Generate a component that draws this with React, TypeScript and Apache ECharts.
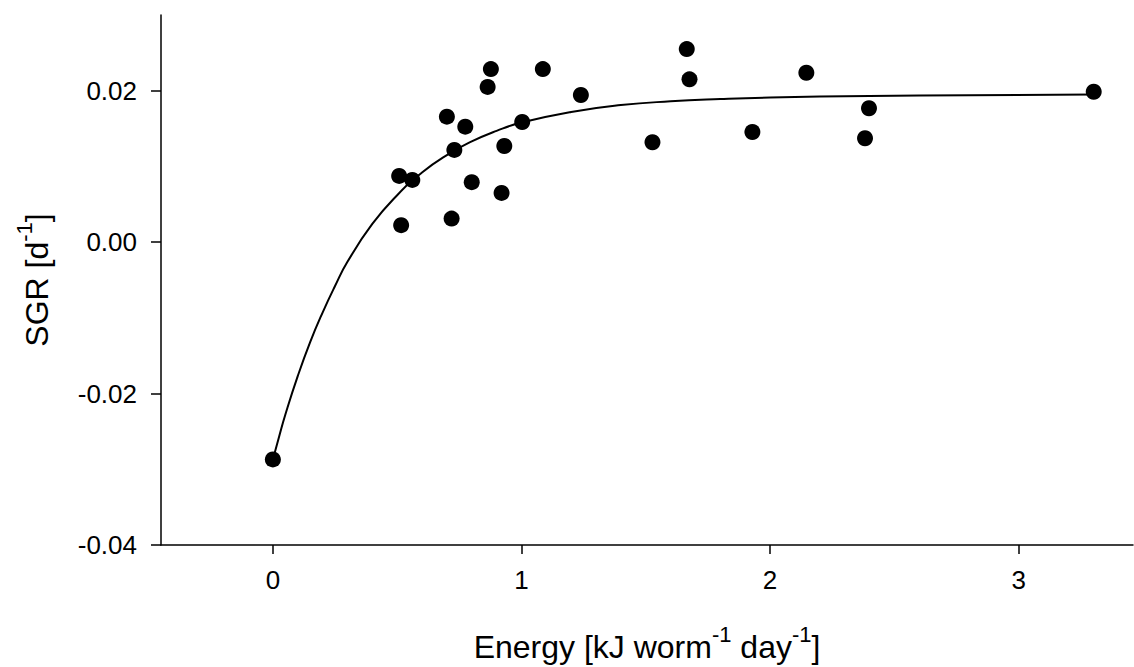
import React, { useEffect, useRef } from "react";
import * as echarts from "echarts";

// Observed points: energy intake vs specific growth rate
const energy = [0, 0.508, 0.516, 0.561, 0.70, 0.719, 0.73, 0.774, 0.80, 0.864, 0.877, 0.92, 0.931, 1.003, 1.086, 1.239, 1.527, 1.665, 1.676, 1.929, 2.146, 2.382, 2.398, 3.302];
const sgr = [-0.0287, 0.00875, 0.00224, 0.00822, 0.01657, 0.00311, 0.01218, 0.01525, 0.00792, 0.0205, 0.02286, 0.0065, 0.0127, 0.01587, 0.02286, 0.01944, 0.0132, 0.0255, 0.0215, 0.01455, 0.02237, 0.01372, 0.01768, 0.01987];

// Fitted curve
const fitX = [0, 0.025, 0.05, 0.1, 0.15, 0.2, 0.25, 0.3, 0.4, 0.5, 0.6, 0.7, 0.8, 0.9, 1.0, 1.2, 1.4, 1.6, 1.8, 2.0, 2.4, 2.8, 3.302];
const fitY = [-0.0287, -0.0257, -0.0228, -0.0177, -0.0132, -0.0093, -0.0058, -0.0026, 0.0024, 0.0062, 0.0092, 0.0115, 0.0133, 0.0147, 0.0158, 0.0172, 0.0181, 0.0186, 0.0189, 0.0191, 0.0193, 0.0194, 0.0195];

const xTicks = [0, 1, 2, 3];
const yTicks = [-0.04, -0.02, 0, 0.02];

const FONT = "'Liberation Sans', Arial, sans-serif";

export default function App() {
  const ref = useRef<HTMLDivElement>(null);
  useEffect(() => {
    if (!ref.current) return;
    const chart = echarts.init(ref.current, undefined, { renderer: "svg" });
    const axisLine = { show: true, onZero: false, lineStyle: { color: "#000", width: 1.5 } };
    const axisTickBase = { show: true, inside: false, length: 10, lineStyle: { color: "#000", width: 1.5 } };
    const nameStyle = {
      fontFamily: FONT,
      fontSize: 32,
      color: "#000",
      rich: { sup: { fontFamily: FONT, fontSize: 22, color: "#000", padding: [0, 0, 26, 0] } },
    };
    chart.setOption({
      animation: false,
      backgroundColor: "#fff",
      grid: { left: 161, right: 1, top: 15, bottom: 122, containLabel: false, outerBoundsMode: "none" },
      xAxis: {
        type: "value",
        min: -0.45,
        max: 3.46,
        name: "Energy [kJ worm{sup|-1} day{sup|-1}]",
        nameLocation: "middle",
        nameGap: 78,
        nameTextStyle: nameStyle,
        axisLine,
        axisTick: { ...axisTickBase, length: 9, customValues: xTicks },
        axisLabel: {
          customValues: xTicks,
          margin: 22,
          fontFamily: FONT,
          fontSize: 26,
          color: "#000",
          formatter: (v: number) => String(v),
        },
        splitLine: { show: false },
      },
      yAxis: {
        type: "value",
        min: -0.04,
        max: 0.03,
        name: "SGR [d{sup|-1}]",
        nameLocation: "middle",
        nameGap: 100,
        nameTextStyle: nameStyle,
        axisLine,
        axisTick: { ...axisTickBase, customValues: yTicks },
        axisLabel: {
          customValues: yTicks,
          margin: 24,
          fontFamily: FONT,
          fontSize: 26,
          color: "#000",
          formatter: (v: number) => (Math.abs(v) < 1e-9 ? "0.00" : v.toFixed(2)),
        },
        splitLine: { show: false },
      },
      series: [
        {
          type: "line",
          data: fitX.map((x, i) => [x, fitY[i]]),
          smooth: true,
          showSymbol: false,
          symbol: "none",
          lineStyle: { color: "#000", width: 2 },
          z: 2,
        },
        {
          type: "scatter",
          data: energy.map((x, i) => [x, sgr[i]]),
          symbol: "circle",
          symbolSize: 16,
          itemStyle: { color: "#000", opacity: 1 },
          z: 3,
        },
      ],
    });
    return () => chart.dispose();
  }, []);
  return (
    <div
      ref={ref}
      style={{ position: "fixed", left: 0, top: 0, width: 1134, height: 667, background: "#fff" }}
    />
  );
}
